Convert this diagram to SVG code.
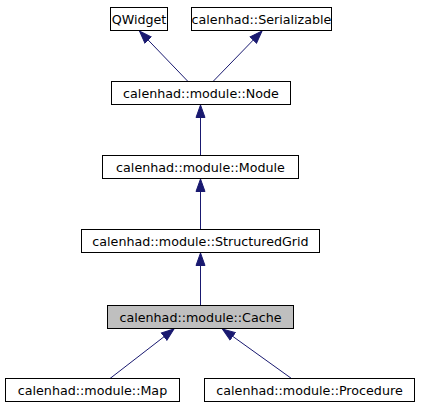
<svg xmlns="http://www.w3.org/2000/svg" width="421" height="411" viewBox="0 0 421 411">
<style>
.box{fill:#ffffff;stroke:#000000;stroke-width:1}
.cur{fill:#bfbfbf;stroke:#000000;stroke-width:1}
.lbl{font-family:"DejaVu Sans",sans-serif;font-size:12.7px;fill:#000000;text-anchor:middle}
.edge{fill:none;stroke:#191970;stroke-width:1;marker-end:url(#ah)}
</style>
<defs>
<marker id="ah" markerUnits="userSpaceOnUse" markerWidth="14" markerHeight="11" refX="13" refY="5" orient="auto" viewBox="0 0 14 10">
<path d="M0.5,0.5 L13,5 L0.5,9.5 z" fill="#191970" stroke="#191970" stroke-width="1"/>
</marker>
</defs>
<rect width="421" height="411" fill="#ffffff"/>
<g id="connectors">
<path class="edge" d="M188,81.5 L139.5,31"/>
<path class="edge" d="M213,81.5 L262,31"/>
<path class="edge" d="M200.5,155.5 L200.5,105"/>
<path class="edge" d="M200.5,229.5 L200.5,179"/>
<path class="edge" d="M200.5,305.5 L200.5,253"/>
<path class="edge" d="M110,378.5 L174,329"/>
<path class="edge" d="M291.5,378.5 L222.5,329"/>
</g>
<g id="QWidget"><rect class="box" x="110.5" y="7.5" width="57" height="23"/><text class="lbl" x="139" y="23.5">QWidget</text></g>
<g id="Serializable"><rect class="box" x="191.5" y="7.5" width="140" height="23"/><text class="lbl" x="261.5" y="23.5">calenhad::Serializable</text></g>
<g id="Node"><rect class="box" x="111.5" y="81.5" width="179" height="23"/><text class="lbl" x="201" y="97.5">calenhad::module::Node</text></g>
<g id="Module"><rect class="box" x="102.5" y="155.5" width="196" height="23"/><text class="lbl" x="200.5" y="171.5">calenhad::module::Module</text></g>
<g id="StructuredGrid"><rect class="box" x="81.5" y="229.5" width="238" height="23"/><text class="lbl" x="200.5" y="245.5">calenhad::module::StructuredGrid</text></g>
<g id="Cache"><rect class="cur" x="107.5" y="305.5" width="186" height="23"/><text class="lbl" x="200.5" y="321.5">calenhad::module::Cache</text></g>
<g id="Map"><rect class="box" x="5.5" y="378.5" width="174" height="23"/><text class="lbl" x="92.5" y="394.5">calenhad::module::Map</text></g>
<g id="Procedure"><rect class="box" x="204.5" y="378.5" width="210" height="23"/><text class="lbl" x="309.5" y="394.5">calenhad::module::Procedure</text></g>
</svg>
